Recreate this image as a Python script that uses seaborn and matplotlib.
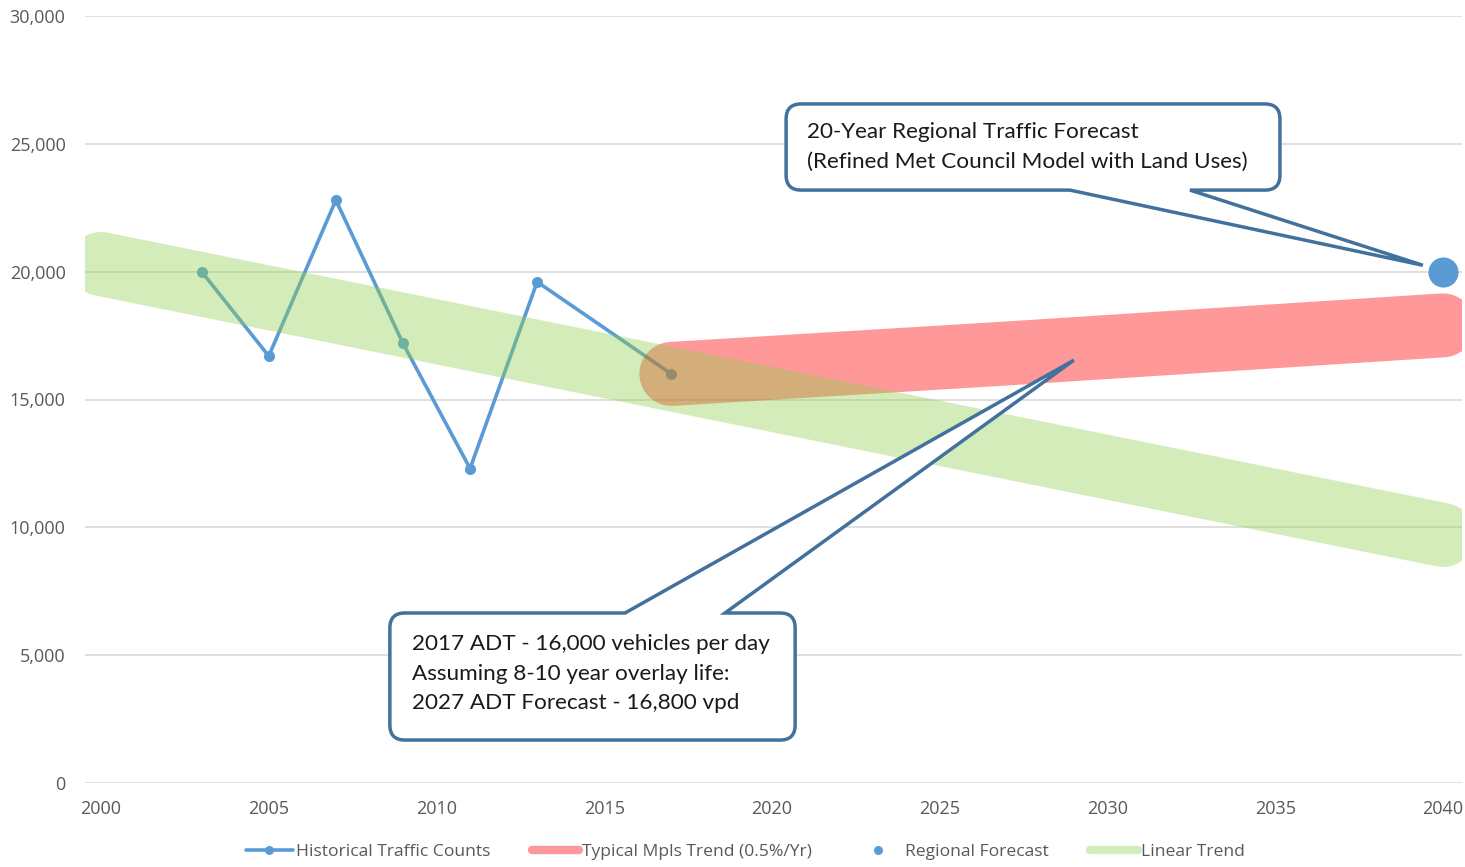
import matplotlib
matplotlib.use("Agg")
import matplotlib.pyplot as plt
import seaborn as sns
import numpy as np
import pandas as pd
from matplotlib.path import Path
from matplotlib.patches import PathPatch
from matplotlib.lines import Line2D
from matplotlib.transforms import IdentityTransform

# ---------------- data ----------------
hist_years = [2003, 2005, 2007, 2009, 2011, 2013, 2017]
hist_counts = [20000, 16700, 22800, 17200, 12300, 19600, 16000]

mpls_years = [2017, 2027, 2040]
mpls_values = [16000, 16800, 17900]

trend_years = [2000, 2040]
trend_values = [20300, 9700]

forecast_year = [2040]
forecast_value = [20000]

x_ticks = [2000, 2005, 2010, 2015, 2020, 2025, 2030, 2035, 2040]
y_ticks = [0, 5000, 10000, 15000, 20000, 25000, 30000]

legend_labels = ["Historical Traffic Counts", "Typical Mpls Trend (0.5%/Yr)",
                 "Regional Forecast", "Linear Trend"]

callout1_lines = ["20-Year Regional Traffic Forecast",
                  "(Refined Met Council Model with Land Uses)"]
callout2_lines = ["2017 ADT - 16,000 vehicles per day",
                  "Assuming 8-10 year overlay life:",
                  "2027 ADT Forecast - 16,800 vpd"]

# ---------------- style ----------------
BLUE = "#5B9BD5"
RED = "#FF0000"
GREEN = "#92D050"
BORDER = "#41719C"
GRAY_TXT = "#595959"
GRID = "#D9D9D9"

sns.set_theme(style="white")
plt.rcParams["font.family"] = ["Open Sans", "DejaVu Sans"]

W, H = 1465, 867
fig = plt.figure(figsize=(W / 100, H / 100), dpi=100)
ax = fig.add_axes([85 / W, 1 - 783 / H, (1462 - 85) / W, (783 - 16) / H])

ax.set_xlim(2000 - 16 / 33.55, 2040 + 19 / 33.55)
ax.set_ylim(0, 30000)

df_hist = pd.DataFrame({"year": hist_years, "count": hist_counts})
df_mpls = pd.DataFrame({"year": mpls_years, "value": mpls_values})
df_trend = pd.DataFrame({"year": trend_years, "value": trend_values})
df_fc = pd.DataFrame({"year": forecast_year, "value": forecast_value})

band_lw = 64 * 72 / 100

sns.lineplot(data=df_hist, x="year", y="count", ax=ax, color=BLUE, lw=2.6,
             marker="o", markersize=8, markeredgewidth=0, zorder=2, legend=False)
sns.lineplot(data=df_mpls, x="year", y="value", ax=ax, color=RED, alpha=0.4,
             lw=band_lw, solid_capstyle="round", zorder=3, legend=False)
sns.lineplot(data=df_trend, x="year", y="value", ax=ax, color=GREEN, alpha=0.4,
             lw=band_lw, solid_capstyle="round", zorder=4, legend=False)
sns.scatterplot(data=df_fc, x="year", y="value", ax=ax, color=BLUE, s=470,
                linewidth=0, zorder=5, clip_on=False, legend=False)

# axes styling
for s in ax.spines.values():
    s.set_visible(False)
ax.set_xticks(x_ticks)
ax.set_yticks(y_ticks)
ax.set_yticklabels([f"{v:,}" for v in y_ticks])
ax.yaxis.grid(True, color=GRID, lw=1.2)
ax.xaxis.grid(False)
ax.set_axisbelow(True)
ax.tick_params(axis="both", length=0, labelsize=13, colors=GRAY_TXT)
ax.tick_params(axis="x", pad=12)
ax.tick_params(axis="y", pad=14)
ax.set_xlabel("")
ax.set_ylabel("")

fig.canvas.draw()


def callout(box, base, tip, side, lines, text_xy, line_step):
    L, R, B, T = box
    (pL, pB) = ax.transData.transform((L, B))
    (pR, pT) = ax.transData.transform((R, T))
    b0 = ax.transData.transform((base[0], B))[0]
    b1 = ax.transData.transform((base[1], B))[0]
    tx, ty = ax.transData.transform(tip)
    r = 15
    verts = [(pL + r, pB)]
    codes = [Path.MOVETO]
    if side == "bottom":
        verts += [(b0, pB), (tx, ty), (b1, pB)]
        codes += [Path.LINETO] * 3
    verts += [(pR - r, pB), (pR, pB), (pR, pB + r), (pR, pT - r), (pR, pT), (pR - r, pT)]
    codes += [Path.LINETO, Path.CURVE3, Path.CURVE3, Path.LINETO, Path.CURVE3, Path.CURVE3]
    if side == "top":
        verts += [(b1, pT), (tx, ty), (b0, pT)]
        codes += [Path.LINETO] * 3
    verts += [(pL + r, pT), (pL, pT), (pL, pT - r), (pL, pB + r), (pL, pB), (pL + r, pB), (pL + r, pB)]
    codes += [Path.LINETO, Path.CURVE3, Path.CURVE3, Path.LINETO, Path.CURVE3, Path.CURVE3, Path.CLOSEPOLY]
    patch = PathPatch(Path(verts, codes), facecolor="white", edgecolor=BORDER,
                      lw=2.5, joinstyle="miter", transform=IdentityTransform(),
                      zorder=10)
    patch.set_clip_on(False)
    fig.add_artist(patch)
    px, py = ax.transData.transform(text_xy)
    for i, line in enumerate(lines):
        fig.text(px / W, (py - i * line_step) / H, line, ha="left", va="center",
                 fontsize=16.2, color="#1a1a1a", family=["Lato", "DejaVu Sans"],
                 zorder=11)


callout((2020.42, 2035.14, 23190, 26560), (2028.88, 2032.46), (2039.4, 20250),
        "bottom", callout1_lines, (2021.04, 25450), 30)
callout((2008.61, 2020.69, 1680, 6650), (2015.62, 2018.6), (2029.0, 16540),
        "top", callout2_lines, (2009.27, 5430), 29.5)

# legend
handles = [
    Line2D([], [], color=BLUE, lw=2.6, marker="o", markersize=6.5, markeredgewidth=0),
    Line2D([], [], color=RED, alpha=0.4, lw=6),
    Line2D([], [], color=BLUE, lw=0, marker="o", markersize=6.5, markeredgewidth=0),
    Line2D([], [], color=GREEN, alpha=0.4, lw=6),
]
leg = fig.legend(handles, legend_labels, loc="center", bbox_to_anchor=(745 / W, 1 - 852 / H),
                 ncol=4, frameon=False, fontsize=12.6, handlelength=2.7,
                 handletextpad=0.17, columnspacing=2.4, labelcolor=GRAY_TXT)

fig.savefig("out.png", dpi=100)
